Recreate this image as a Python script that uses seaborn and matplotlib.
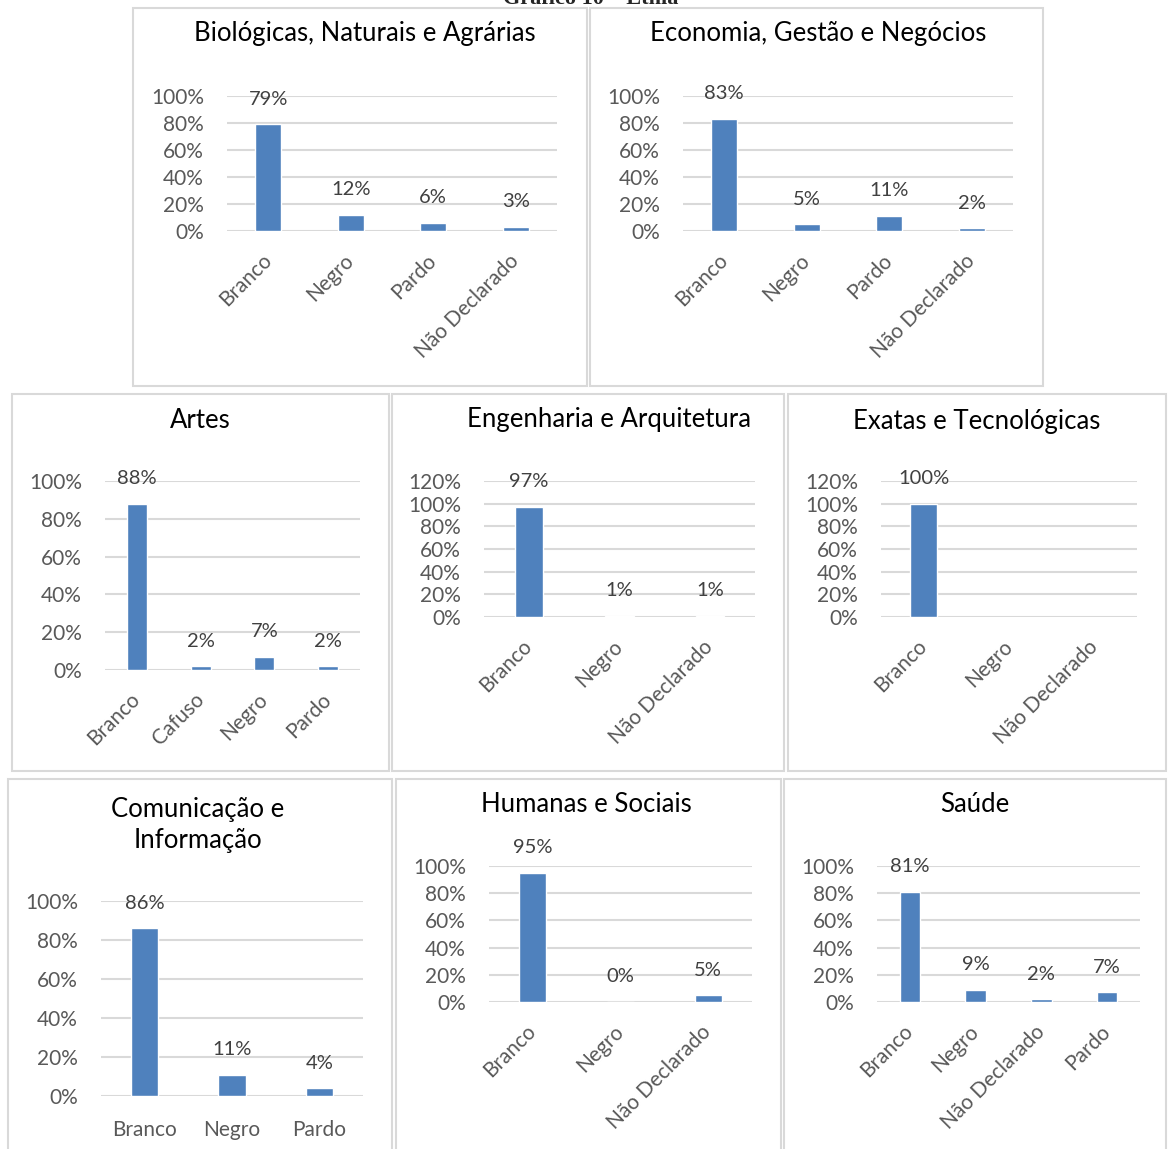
import numpy as np
import pandas as pd
import seaborn as sns
from matplotlib import pyplot as plt
from matplotlib.patches import Rectangle

# Etnia por area - shares of students
bio_cats = ["Branco", "Negro", "Pardo", "Não Declarado"]
bio_vals = [0.79, 0.12, 0.06, 0.03]

eco_cats = ["Branco", "Negro", "Pardo", "Não Declarado"]
eco_vals = [0.83, 0.05, 0.11, 0.02]

artes_cats = ["Branco", "Cafuso", "Negro", "Pardo"]
artes_vals = [0.88, 0.02, 0.07, 0.02]

eng_cats = ["Branco", "Negro", "Não Declarado"]
eng_vals = [0.97, 0.01, 0.01]

exatas_cats = ["Branco", "Negro", "Não Declarado"]
exatas_vals = [1.00, np.nan, np.nan]

com_cats = ["Branco", "Negro", "Pardo"]
com_vals = [0.86, 0.11, 0.04]

hum_cats = ["Branco", "Negro", "Não Declarado"]
hum_vals = [0.95, 0.00, 0.05]

saude_cats = ["Branco", "Negro", "Não Declarado", "Pardo"]
saude_vals = [0.81, 0.09, 0.02, 0.07]

W, H = 1168, 1149
BLUE = "#4F81BD"
GRID = "#D9D9D9"

sns.set_style("white")
plt.rcParams['font.family'] = ['Lato', 'DejaVu Sans']

fig = plt.figure(figsize=(W / 100, H / 100), dpi=100)

# title, cats, vals, box (x0,y0,x1,y1), plot (x0,ytop,x1,ybottom), ymax, title x, title y, rotate
panels = [
    ("Biológicas, Naturais e Agrárias", bio_cats, bio_vals, (133, 8, 587, 386), (227, 96, 557, 231), 1.0, 365, 33, True),
    ("Economia, Gestão e Negócios", eco_cats, eco_vals, (590, 8, 1043, 386), (683, 96, 1013, 231), 1.0, 818, 33, True),
    ("Artes", artes_cats, artes_vals, (12, 394, 389, 771), (105, 481, 360, 670), 1.0, 200, 421, True),
    ("Engenharia e Arquitetura", eng_cats, eng_vals, (392, 394, 784, 771), (484, 481, 755, 617), 1.2, 609, 419, True),
    ("Exatas e Tecnológicas", exatas_cats, exatas_vals, (788, 394, 1166, 771), (881, 481, 1137, 617), 1.2, 977, 421, True),
    ("Comunicação e\nInformação", com_cats, com_vals, (8, 779, 392, 1160), (101, 901, 363, 1096), 1.0, 198, 825, False),
    ("Humanas e Sociais", hum_cats, hum_vals, (396, 779, 781, 1160), (489, 866, 752, 1002), 1.0, 586, 804, True),
    ("Saúde", saude_cats, saude_vals, (784, 779, 1166, 1160), (877, 866, 1140, 1002), 1.0, 975, 804, True),
]

for title, cats, vals, box, area, ymax, tx, ty, rot in panels:
    bx0, by0, bx1, by1 = box
    fig.patches.append(Rectangle((bx0 / W, 1 - by1 / H), (bx1 - bx0) / W, (by1 - by0) / H,
                                 transform=fig.transFigure, facecolor="none",
                                 edgecolor=GRID, linewidth=1.5, zorder=-1))
    x0, yt, x1, yb = area
    ax = fig.add_axes([x0 / W, 1 - yb / H, (x1 - x0) / W, (yb - yt) / H])
    ax.set_facecolor("none")
    df = pd.DataFrame({"cat": cats, "val": vals})
    sns.barplot(data=df, x="cat", y="val", order=cats, color=BLUE, saturation=1,
                width=0.31, ax=ax, zorder=3)
    ax.set_xlim(-0.5, len(cats) - 0.5)
    ax.set_ylim(0, ymax)
    ticks = np.arange(0, ymax + 0.001, 0.2)
    ax.set_yticks(ticks)
    ax.set_yticklabels([f"{t:.0%}" for t in ticks])
    ax.yaxis.grid(True, color=GRID, linewidth=1.5, zorder=0)
    ax.set_axisbelow(True)
    for s in ax.spines.values():
        s.set_visible(False)
    ax.set_xlabel("")
    ax.set_ylabel("")
    ax.tick_params(axis="y", length=0, pad=16.5, labelsize=15, labelcolor="#595959")
    ax.tick_params(axis="x", length=0, labelsize=15, labelcolor="#595959")
    if rot:
        ax.tick_params(axis="x", pad=19)
        for lab in ax.get_xticklabels():
            lab.set_rotation(45)
            lab.set_ha("right")
            lab.set_va("center")
            lab.set_rotation_mode("anchor")
    else:
        ax.tick_params(axis="x", pad=17)
    for cont in ax.containers:
        ax.bar_label(cont, fmt="{:.0%}", padding=12, fontsize=14.5, color="#404040")
    fig.text(tx / W, 1 - ty / H, title, ha="center", va="center", fontsize=18.5,
             color="black", linespacing=1.3)

fig.text(591 / W, 1 - 4 / H, "Gráfico 10 – Etnia", ha="center", va="baseline",
         fontsize=16, fontweight="bold", family="Liberation Serif")

plt.savefig("out.png", dpi=100)
